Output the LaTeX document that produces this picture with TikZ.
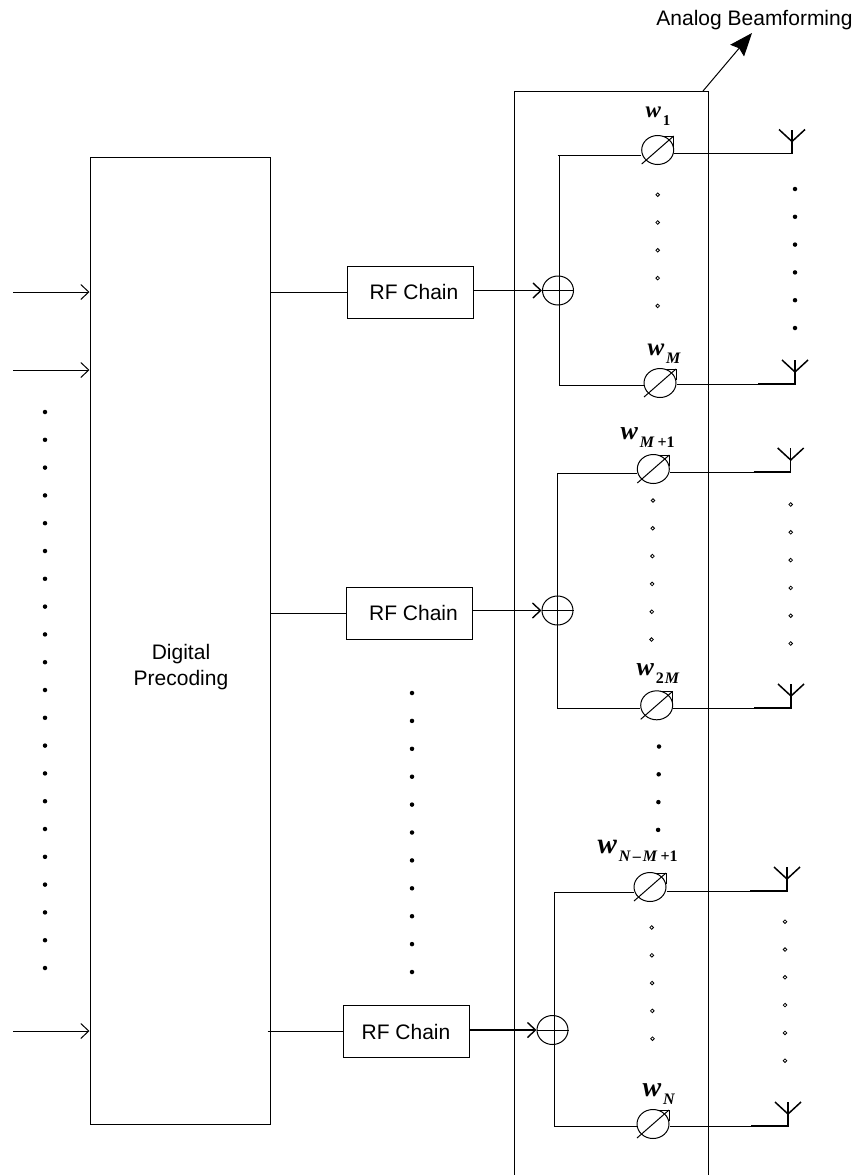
\documentclass[tikz,border=0pt]{standalone}
\usepackage{fontspec}
\setmainfont{Liberation Sans}
\newfontfamily\wfont{Liberation Serif}
\usetikzlibrary{arrows.meta,shapes.geometric}
\newcommand{\wlabel}[3]{{\wfont\bfseries\itshape\fontsize{#1}{#1}\selectfont w}\hspace{2pt}\raisebox{-8pt}{\wfont\bfseries\itshape\fontsize{#2}{#2}\selectfont #3}}
\newcommand{\up}[1]{\textup{#1}}
\tikzset{
  box/.style={draw,inner sep=0pt},
  rfbox/.style={box,minimum width=126pt,minimum height=52pt,font=\fontsize{21}{26}\selectfont},
  sumnode/.style={draw,ellipse,inner sep=0pt,minimum width=31pt,minimum height=29pt},
  psnode/.style={draw,ellipse,inner sep=0pt,minimum width=32pt,minimum height=29pt},
  txt/.style={inner sep=0pt,font=\fontsize{21}{26}\selectfont},
  wtxt/.style={anchor=base west,inner sep=0pt},
  barb/.style={-{Straight Barb[length=8pt,width=15pt]}},
  fulldot/.style={circle,fill,inner sep=0pt,minimum size=4.5pt},
  opendot/.style={circle,draw,line width=.8pt,inner sep=0pt,minimum size=3.6pt},
}
\begin{document}
\begin{tikzpicture}[x=1pt,y=-1pt,line width=1pt]
\useasboundingbox (0,0) rectangle (857,1175);
\node[box,minimum width=180pt,minimum height=967pt] (dp) at (180,640.5) {};
\node[txt,align=center] (dptext) at (181,667) {Digital\\Precoding};
\node[rfbox] (rf1) at (410.5,292) {\hspace*{7pt}RF Chain};
\node[rfbox] (rf2) at (409,613) {\hspace*{9pt}RF Chain};
\node[rfbox] (rf3) at (406,1031.5) {RF Chain};
\node[txt,anchor=base] (ab) at (754.5,25) {Analog Beamforming};
% analog part, open at the bottom
\coordinate (abl) at (514,1175);
\coordinate (abtl) at (514,91);
\coordinate (abtr) at (708,91);
\coordinate (abr) at (708,1175);
\coordinate (abfoot) at (703,91);
\coordinate (abtip) at (752,33);
\draw (abl) -- (abtl) -- (abtr) -- (abr);
\draw[-{Stealth[length=23pt,width=18pt,inset=3pt]}] (abfoot) -- (abtip);
\node[sumnode] (sum1) at (558,290.5) {};
\node[sumnode] (sum2) at (557.5,610.5) {};
\node[sumnode] (sum3) at (552.5,1030) {};
% inputs
\coordinate (in1) at (13,292);
\coordinate (in2) at (13,370);
\coordinate (in3) at (13,1031);
\foreach \i in {1,2,3}
  \draw[barb] (in\i) -- (dp.west |- in\i);
\draw (dp.east |- rf1.west) -- (rf1.west);
\draw (dp.east |- rf2.west) -- (rf2.west);
\draw ([xshift=-3pt]dp.east |- rf3.west) -- (rf3.west);
\foreach \i in {1,2,3} {
  \draw[barb,line width=1.4pt] (rf\i.east |- sum\i.west) -- (sum\i.west);
  \draw (sum\i.west) -- (sum\i.east);
}
% phase shifters
\foreach \ps/\x/\y in {pa/657.7/150,pb/660/383,pc/653.3/469,pd/656.7/705.3,pe/650/887,pf/653/1124} {
  \node[psnode] (\ps) at (\x,\y) {};
  \coordinate (\ps tip) at ([shift={(16,-14)}]\ps.center);
  \draw ([shift={(-16,14)}]\ps.center) -- (\ps tip);
  \draw ([xshift=-11pt]\ps tip) -- (\ps tip) -- ([yshift=-11pt]\ps tip);
}
\node[wtxt] (wa) at (645,117) {\wlabel{23}{15}{\up{1}}};
\node[wtxt] (wb) at (647,355) {\wlabel{25}{16}{M}};
\node[wtxt] (wc) at (620,439) {\wlabel{26}{16}{M\hspace{3pt}\up{+1}}};
\node[wtxt] (wd) at (636,675) {\wlabel{26}{16}{\up{2}\hspace{1pt}M}};
\node[wtxt] (we) at (597,853) {\wlabel{29}{16}{N\hspace{2pt}\up{\textendash}\hspace{2pt}M\hspace{3pt}\up{+1}}};
\node[wtxt] (wf) at (642,1096) {\wlabel{28}{16}{N}};
% buses
\coordinate (ba) at (559.5,155);
\coordinate (bb) at (559.5,385);
\coordinate (bc) at (557.7,473.7);
\coordinate (bd) at (557.7,708);
\coordinate (be) at (554,892);
\coordinate (bf) at (554,1126);
\draw ([xshift=-2pt]ba) -- (ba) -- (bb) -- (bb -| pb.west);
\draw (ba) -- (ba -| pa.west);
\draw (bd -| pd.west) -- (bd) -- (bc) -- (bc -| pc.west);
\draw (bf -| pf.west) -- (bf) -- (be) -- (be -| pe.west);
% antennas
\foreach \ps/\x/\y in {pa/792/153.5,pb/795/384,pc/790.7/472,pd/791/708,pe/787/891,pf/788/1126} {
  \coordinate (\ps ant) at (\x,\y);
  \coordinate (\ps top) at (\x,\y-24);
  \coordinate (\ps mid) at (\x,\y-12);
  \draw (\ps.east |- \ps ant) -- (\ps ant);
  \draw[line width=1.5pt] ([xshift=-37pt]\ps ant) -- (\ps ant) -- (\ps top);
  \draw[line width=1.5pt] ([xshift=-13pt]\ps top) -- (\ps mid) -- ([xshift=13pt]\ps top);
}
% dots
\foreach \i in {0,...,20}
  \node[fulldot] (la\i) at (45,412+\i*27.8) {};
\foreach \i in {0,...,10}
  \node[fulldot] (mi\i) at (412,693+\i*27.9) {};
\foreach \i in {0,...,5} {
  \node[fulldot] (ra\i) at (795,189+\i*27.8) {};
  \node[opendot] (rb\i) at (790.7,504.5+\i*27.8) {};
  \node[opendot] (rc\i) at (785,921.7+\i*27.8) {};
  \node[opendot] (pm\i) at (653-.3*\i,500.5+\i*27.8) {};
}
\foreach \i in {0,...,4} {
  \node[opendot] (pk\i) at (657.7,194.7+\i*27.8) {};
  \node[opendot] (pn\i) at (651.7+.2*\i,927.5+\i*27.8) {};
}
\foreach \i in {0,...,3}
  \node[fulldot] (ma\i) at (659-.3*\i,746.5+\i*27.8) {};
\end{tikzpicture}
\end{document}
